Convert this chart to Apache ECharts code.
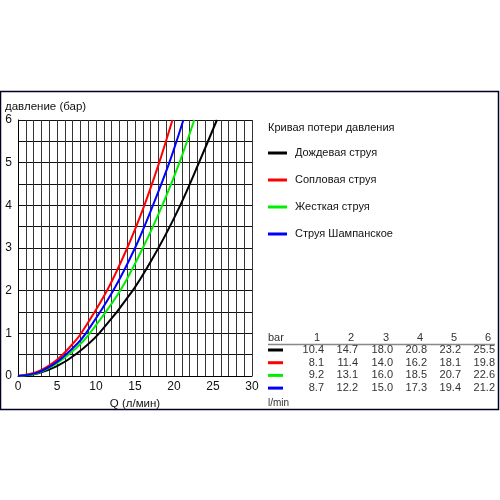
<!DOCTYPE html>
<html>
<head>
<meta charset="utf-8">
<script src="https://cdn.jsdelivr.net/npm/echarts@6/dist/echarts.min.js"></script>
<style>html,body{margin:0;padding:0;background:#fff}#c{width:500px;height:500px}</style>
</head>
<body>
<div id="c"></div>
<script>
// Table of the reference: flow (l/min) at each pressure (bar)
var pressures = [1, 2, 3, 4, 5, 6];
var seriesNames = ['Дождевая струя', 'Сопловая струя', 'Жесткая струя', 'Струя Шампанское'];
var seriesColors = ['#000000', '#ff0000', '#00ee00', '#0000ff'];
var flowRain = [10.4, 14.7, 18.0, 20.8, 23.2, 25.5];
var flowNozzle = [8.1, 11.4, 14.0, 16.2, 18.1, 19.8];
var flowHard = [9.2, 13.1, 16.0, 18.5, 20.7, 22.6];
var flowChamp = [8.7, 12.2, 15.0, 17.3, 19.4, 21.2];
// low-pressure points: [Q, p]
var lowRain = [[0, 0], [2.5, 0.06], [5, 0.23], [7.5, 0.52]];
var lowNozzle = [[0, 0], [2.5, 0.10], [5, 0.38], [7, 0.75]];
var lowHard = [[0, 0], [2.5, 0.07], [5, 0.30], [7.5, 0.66]];
var lowChamp = [[0, 0], [2.5, 0.08], [5, 0.33], [7.5, 0.74]];
var xTicks = [0, 5, 10, 15, 20, 25, 30];
var yTicks = [0, 1, 2, 3, 4, 5, 6];

var flows = [flowRain, flowNozzle, flowHard, flowChamp];
var lows = [lowRain, lowNozzle, lowHard, lowChamp];
var FONT = 'Liberation Sans, Arial, sans-serif';

var series = seriesNames.map(function (n, i) {
  var d = lows[i].slice();
  flows[i].forEach(function (q, k) { d.push([q, pressures[k]]); });
  return {
    name: n, type: 'line', data: d, smooth: 0.35, showSymbol: false, symbol: 'none',
    lineStyle: { color: seriesColors[i], width: 2 }, itemStyle: { color: seriesColors[i] },
    z: 3, animation: false
  };
});

var g = [];
// outer frame
g.push({ type: 'rect', shape: { x: 0.5, y: 91.5, width: 498, height: 318 },
  style: { fill: 'none', stroke: '#000022', lineWidth: 1.5 }, z: 10 });
g.push({ type: 'text', left: 5, top: 101, style: { text: 'давление (бар)', font: '11.5px ' + FONT, fill: '#111' } });
g.push({ type: 'text', left: 268, top: 122, style: { text: 'Кривая потери давления', font: '11px ' + FONT, fill: '#111' } });
// table
var colRight = [324, 358, 393, 427, 461, 495];
var TXT = '#333';
g.push({ type: 'text', x: 268, y: 338, style: { text: 'bar', font: '11px ' + FONT, fill: TXT, verticalAlign: 'middle' } });
pressures.forEach(function (p, k) {
  g.push({ type: 'text', x: colRight[k] - 4, y: 338, style: { text: String(p), font: '11px ' + FONT, fill: TXT, align: 'right', verticalAlign: 'middle' } });
});
g.push({ type: 'line', shape: { x1: 268, y1: 344.5, x2: 495, y2: 344.5 }, style: { stroke: '#888', lineWidth: 1.5 } });
flows.forEach(function (arr, i) {
  var y = 350 + i * 12.7;
  g.push({ type: 'line', shape: { x1: 268, y1: y, x2: 283, y2: y }, style: { stroke: seriesColors[i], lineWidth: 3 } });
  arr.forEach(function (v, k) {
    g.push({ type: 'text', x: colRight[k], y: y, style: { text: v.toFixed(1), font: '11px ' + FONT, fill: TXT, align: 'right', verticalAlign: 'middle' } });
  });
});
g.push({ type: 'text', x: 268, y: 403, style: { text: 'l/min', font: '10px ' + FONT, fill: TXT, verticalAlign: 'middle' } });

var chart = echarts.init(document.getElementById('c'), null, { renderer: 'canvas' });
chart.setOption({
  animation: false,
  backgroundColor: '#ffffff',
  grid: { left: 18, top: 120, width: 234, height: 256, containLabel: false },
  xAxis: {
    type: 'value', min: 0, max: 30, interval: 1,
    name: 'Q (л/мин)', nameLocation: 'middle', nameGap: 20,
    nameTextStyle: { fontFamily: FONT, fontSize: 11.5, color: '#111' },
    axisLine: { show: true, lineStyle: { color: '#000', width: 1 } },
    axisTick: { show: false },
    axisLabel: { fontFamily: FONT, fontSize: 12, color: '#111', margin: 5,
      formatter: function (v) { return xTicks.indexOf(v) >= 0 ? String(v) : ''; } },
    splitLine: { show: true, lineStyle: { color: '#333', width: 1 } }
  },
  yAxis: {
    type: 'value', min: 0, max: 6, interval: 0.5,
    axisLine: { show: true, lineStyle: { color: '#000', width: 1 } },
    axisTick: { show: false },
    axisLabel: { fontFamily: FONT, fontSize: 12, color: '#111', margin: 6,
      formatter: function (v) { return yTicks.indexOf(v) >= 0 ? String(v) : ''; } },
    splitLine: { show: true, lineStyle: { color: '#111', width: 1 } }
  },
  legend: {
    orient: 'vertical', left: 268, top: 146, itemGap: 13, padding: 0,
    icon: 'rect', itemWidth: 19, itemHeight: 3,
    textStyle: { fontFamily: FONT, fontSize: 11, color: '#111', lineHeight: 14, padding: [0, 0, 0, 3] },
    data: seriesNames
  },
  graphic: g,
  series: series
});
</script>
</body>
</html>
